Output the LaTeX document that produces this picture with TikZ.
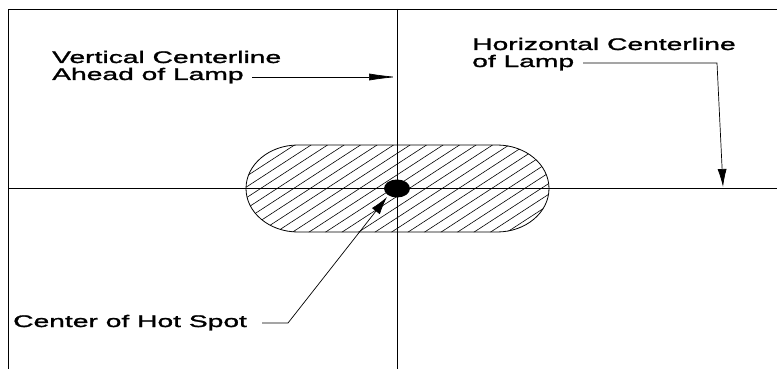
\documentclass[tikz,border=0pt]{standalone}
\usepackage{fontspec}
\newfontfamily\lblfont{Liberation Sans}[FakeStretch=1.68,FakeBold=1.5]
\usetikzlibrary{arrows.meta}
\tikzset{
  lbl/.style={font=\lblfont\fontsize{16.8}{17}\selectfont, inner sep=0pt, anchor=base west},
  thin line/.style={line width=0.8pt, black},
  hatch/.style={line width=0.6pt, black},
  leader/.style={line width=0.7pt, black},
}
\begin{document}
\begin{tikzpicture}[x=1pt,y=1pt]
\useasboundingbox (0,0) rectangle (777,-369);
% hatched hot-spot zone
\begin{scope}
  \clip (298,-145) -- (497,-145) arc[start angle=90, end angle=-90, x radius=52pt, y radius=43.5pt]
        -- (298,-232) arc[start angle=270, end angle=90, x radius=52pt, y radius=43.5pt] -- cycle;
  \foreach \i in {-16,...,24} {
    \draw[hatch] (100+\i*16.5,-250) -- ++(200,130);
  }
\end{scope}
\draw[thin line] (298,-145) -- (497,-145) arc[start angle=90, end angle=-90, x radius=52pt, y radius=43.5pt]
        -- (298,-232) arc[start angle=270, end angle=90, x radius=52pt, y radius=43.5pt] -- cycle;
% frame and centerlines
\coordinate (fbl) at (8,-369);
\coordinate (ftl) at (8,-9);
\coordinate (ftr) at (777,-9);
\coordinate (vtop) at (397,-9);
\coordinate (vbot) at (397,-369);
\coordinate (hl) at (8,-188.5);
\coordinate (hr) at (777,-188.5);
\draw[thin line] (fbl) -- (ftl) -- (ftr);
\draw[thin line] (vtop) -- (vbot);
\draw[thin line] (hl) -- (hr);
% hot spot
\fill[black] (397,-188.5) ellipse[x radius=13pt, y radius=9pt];
% labels
\node[lbl] (v1) at (52,-63) {Vertical Centerline};
\node[lbl] (v2) at (52,-80) {Ahead of Lamp};
\node[lbl] (h1) at (472,-50) {Horizontal Centerline};
\node[lbl] (h2) at (472,-67) {of Lamp};
\node[lbl] (c1) at (13,-327) {Center of Hot Spot};
% leaders
\coordinate (vs) at (252,-77);
\coordinate (vt) at (397,-77);
\draw[leader, -{Latex[length=28pt,width=7pt]}] (vs) -- (vt);
\coordinate (hs) at (583,-63);
\coordinate (hk) at (717,-63);
\coordinate (ht) at (723,-187);
\draw[leader, -{Latex[length=18pt,width=9pt]}] (hs) -- (hk) -- (ht);
\coordinate (cs) at (262,-323);
\coordinate (ck) at (288,-323);
\coordinate (ct) at (387,-197);
\draw[leader, -{Latex[length=18pt,width=10pt]}] (cs) -- (ck) -- (ct);
\end{tikzpicture}
\end{document}
